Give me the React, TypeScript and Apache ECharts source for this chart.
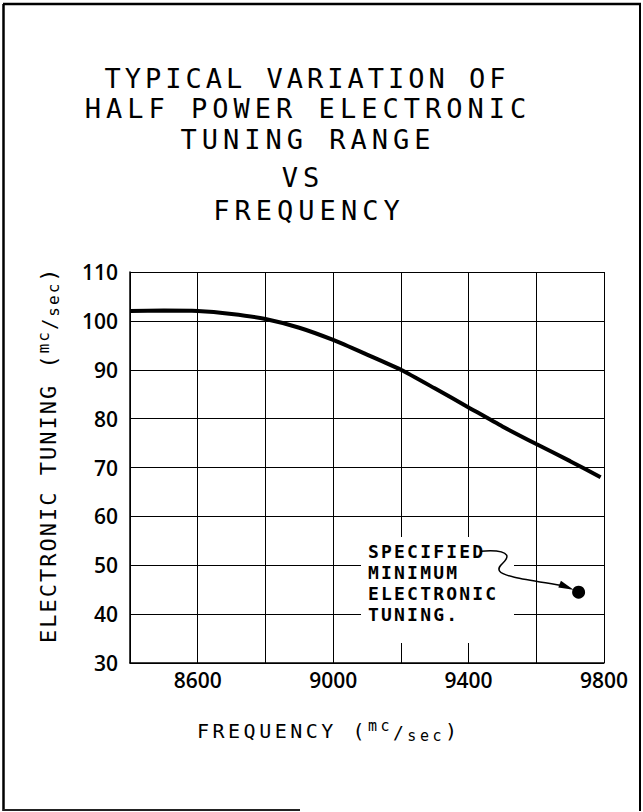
import React, { useEffect, useRef } from 'react';
import * as echarts from 'echarts';

// ---- data ----
const frequency = [8400, 8500, 8600, 8700, 8800, 8900, 9000, 9100, 9200, 9300, 9400, 9500, 9600, 9700, 9790];
const tuning = [102.0, 102.1, 102.0, 101.4, 100.4, 98.6, 96.1, 93.1, 90.0, 86.2, 82.3, 78.4, 74.8, 71.3, 68.0];
const specifiedMinimum = [[9725, 44.5]];
const xTickLabels = [8600, 9000, 9400, 9800];
const titleLines = ['TYPICAL VARIATION OF', 'HALF POWER ELECTRONIC', 'TUNING RANGE', 'VS', 'FREQUENCY'];
const noteLines = ['SPECIFIED', 'MINIMUM', 'ELECTRONIC', 'TUNING.'];
const xNameParts = ['FREQUENCY (', 'mc', '/', 'sec', ')'];
const yNameParts = ['ELECTRONIC TUNING (', 'mc', '/', 'sec', ')'];

// ---- styling ----
const FONT_TITLE = "'DejaVu Sans Mono', spT";
const FONT_TITLE_1 = "'DejaVu Sans Mono', spU";
const FONT_XNAME = "'DejaVu Sans Mono', spX";
const FONT_YNAME = "'DejaVu Sans Mono', spY";
const FONT_NOTE = "'DejaVu Sans Mono', spA";
const FONT_TICK = "'Open Sans', sans-serif";
const SPACING_T = 5;
const SPACING_T1 = 4;
const SPACING_X = 3.5;
const SPACING_Y = 2;
const SPACING_A = 2.2;

echarts.graphic.registerShape(
  'noteArrow',
  echarts.graphic.extendPath('M0 0 C12 -1 23 -1 26 4 C29 10 15 14 19 20 C23 26 50 29 85 35', {})
);

let measureCtx: CanvasRenderingContext2D | null = null;
function measure(text: string, size: number, family: string, weight = 'normal') {
  if (!measureCtx) measureCtx = document.createElement('canvas').getContext('2d');
  measureCtx!.font = `${weight} ${size}px ${family}`;
  return measureCtx!.measureText(text).width;
}

function composite(texts: string[], sizes: number[], dys: number[], family: string, spacing: number) {
  let x = 0;
  return texts.map((t, i) => {
    const el = {
      type: 'text',
      x,
      y: dys[i],
      style: {
        text: t,
        fontSize: sizes[i],
        fontFamily: family,
        fill: '#000',
        textAlign: 'left',
        textVerticalAlign: 'middle',
      },
    };
    x += measure(t, sizes[i], family) + t.length * spacing;
    return el;
  });
}

export default function App() {
  const ref = useRef<HTMLDivElement>(null);

  useEffect(() => {
    if (!ref.current) return;
    const chart = echarts.init(ref.current, null, { renderer: 'svg' });
    const axisLabelBase = { color: '#000', fontSize: 21, fontFamily: FONT_TICK, fontWeight: 600 };

    chart.setOption({
      animation: false,
      backgroundColor: '#fff',
      grid: { left: 130, right: 39, top: 272, bottom: 149 },
      xAxis: {
        type: 'value',
        min: 8400,
        max: 9800,
        interval: 200,
        axisLine: { show: true, lineStyle: { color: '#000', width: 1.5 } },
        axisTick: { show: false },
        splitLine: { show: true, lineStyle: { color: '#000', width: 1 } },
        axisLabel: {
          ...axisLabelBase,
          margin: 6,
          formatter: (v: number) => (xTickLabels.includes(v) ? String(v) : ''),
        },
      },
      yAxis: {
        type: 'value',
        min: 30,
        max: 110,
        interval: 10,
        axisLine: { show: true, lineStyle: { color: '#000', width: 1.5 } },
        axisTick: { show: false },
        splitLine: { show: true, lineStyle: { color: '#000', width: 1 } },
        axisLabel: { ...axisLabelBase, margin: 12 },
      },
      series: [
        {
          type: 'line',
          data: frequency.map((f, i) => [f, tuning[i]]),
          smooth: 0.2,
          showSymbol: false,
          lineStyle: { color: '#000', width: 4 },
          z: 3,
        },
        {
          type: 'scatter',
          data: specifiedMinimum,
          symbolSize: 13,
          itemStyle: { color: '#000', opacity: 1 },
          z: 20,
        },
      ],
    });

    const [px, py] = chart.convertToPixel({ xAxisIndex: 0, yAxisIndex: 0 }, specifiedMinimum[0]) as number[];

    const graphics: any[] = [];
    // frame
    graphics.push(
      { type: 'line', shape: { x1: 3, y1: 4, x2: 641, y2: 4 }, style: { stroke: '#000', lineWidth: 2.5 } },
      { type: 'line', shape: { x1: 3.5, y1: 4, x2: 3.5, y2: 811 }, style: { stroke: '#000', lineWidth: 2.5 } },
      { type: 'line', shape: { x1: 640, y1: 4, x2: 640, y2: 811 }, style: { stroke: '#000', lineWidth: 2 } },
      { type: 'line', shape: { x1: 3, y1: 810, x2: 300, y2: 810 }, style: { stroke: '#222', lineWidth: 2 } }
    );
    // title
    const titleY = [78, 108, 139, 177, 210];
    const titleX = [307, 308, 308, 303, 309];
    titleLines.forEach((t, i) => {
      graphics.push({
        type: 'text',
        x: titleX[i],
        y: titleY[i],
        style: {
          text: t,
          fontSize: 27,
          fontFamily: i === 0 ? FONT_TITLE_1 : FONT_TITLE,
          fill: '#000',
          textAlign: 'center',
          textVerticalAlign: 'middle',
        },
      });
    });
    // x axis name
    graphics.push({
      type: 'group',
      x: 197,
      y: 731,
      children: composite(xNameParts, [20, 15, 18, 15, 20], [0, -5, 1, 5, 0], FONT_XNAME, SPACING_X),
    });
    // y axis name
    graphics.push({
      type: 'group',
      x: 48,
      y: 643,
      rotation: Math.PI / 2,
      children: composite(yNameParts, [22, 16, 19, 16, 22], [0, -5, 1, 5, 0], FONT_YNAME, SPACING_Y),
    });
    // annotation backdrop + text
    graphics.push({
      type: 'rect',
      z: 10,
      shape: { x: 361, y: 537, width: 153, height: 106 },
      style: { fill: '#fff' },
    });
    noteLines.forEach((t, i) => {
      graphics.push({
        type: 'text',
        z: 11,
        x: 368,
        y: 551 + i * 21.3,
        style: {
          text: t,
          fontSize: 18,
          fontWeight: 'bold',
          fontFamily: FONT_NOTE,
          fill: '#000',
          textAlign: 'left',
          textVerticalAlign: 'middle',
        },
      });
    });
    // arrow
    graphics.push({
      type: 'noteArrow',
      z: 12,
      x: px - 98,
      y: py - 41,
      style: { stroke: '#000', fill: 'none', lineWidth: 1.5 },
    });
    graphics.push({
      type: 'polygon',
      z: 12,
      shape: {
        points: [
          [px - 5, py - 2.5],
          [px - 20.3, py - 4.7],
          [px - 17.7, py - 11.3],
        ],
      },
      style: { fill: '#000' },
    });

    chart.setOption({ graphic: graphics });

    return () => chart.dispose();
  }, []);

  return (
    <>
      <style>{`
        #chart text[style*="spT"] { letter-spacing: ${SPACING_T}px; }
        #chart text[style*="spU"] { letter-spacing: ${SPACING_T1}px; }
        #chart text[style*="spX"] { letter-spacing: ${SPACING_X}px; }
        #chart text[style*="spY"] { letter-spacing: ${SPACING_Y}px; }
        #chart text[style*="spA"] { letter-spacing: ${SPACING_A}px; }
      `}</style>
      <div
        id="chart"
        ref={ref}
        style={{ position: 'fixed', left: 0, top: 0, width: 643, height: 812, background: '#fff' }}
      />
    </>
  );
}
